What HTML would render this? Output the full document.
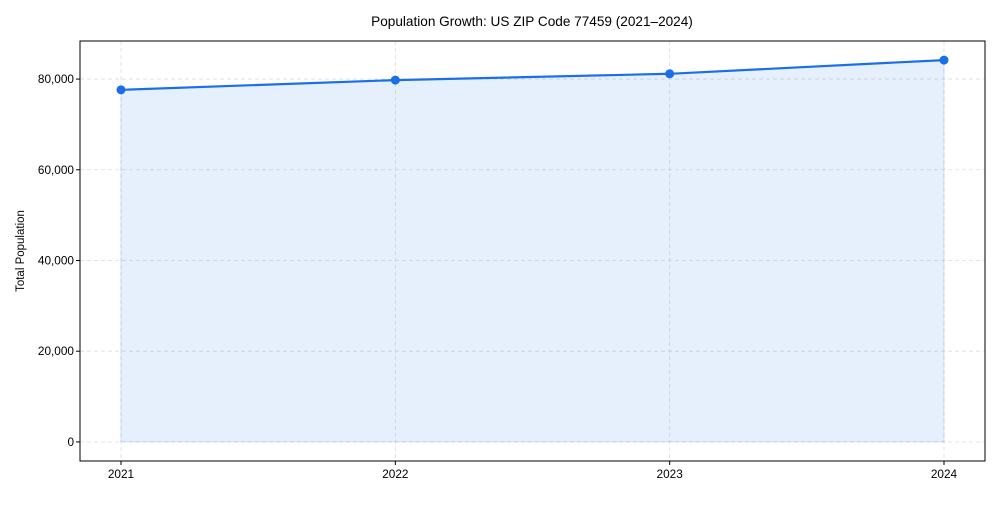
<!DOCTYPE html>
<html><head><meta charset="utf-8"><style>
body{margin:0;background:#fff;font-family:"Liberation Sans",Arial,sans-serif;}
svg text{font-family:"Liberation Sans",Arial,sans-serif;fill:#000;}
</style></head><body>
<svg id="chart" width="1000" height="500">
<text x="532" y="26" font-size="13.6" text-anchor="middle">Population Growth: US ZIP Code 77459 (2021–2024)</text>
<text transform="translate(24,251) rotate(-90)" font-size="11.5" text-anchor="middle">Total Population</text>
<g id="grid"></g><g id="marks"></g><g id="axes"></g>
<rect x="80" y="41" width="905" height="420" fill="none" stroke="#000" stroke-width="1"/>
</svg>
<script>
const years = ["2021","2022","2023","2024"];
const population = [77630, 79775, 81165, 84185];
const yTicks = [0, 20000, 40000, 60000, 80000];
const yTickLabels = ["0","20,000","40,000","60,000","80,000"];
const L=80,R=985,T=41,B=461;
const yMin=-4209,yMax=88394;
const xs=i=>121+i*(944-121)/(years.length-1);
const ys=v=>B-(v-yMin)/(yMax-yMin)*(B-T);
const NS="http://www.w3.org/2000/svg";
function mk(tag,attrs,parent){const e=document.createElementNS(NS,tag);for(const k in attrs)e.setAttribute(k,attrs[k]);document.getElementById(parent).appendChild(e);return e;}
yTicks.forEach((t,i)=>{
 const y=ys(t);
 const g=mk("line",{x1:L,x2:R,y1:y,y2:y,stroke:"#ddd","stroke-dasharray":"4,3","stroke-width":0.8},"grid");
 
 
 const tk=mk("line",{x1:L-4,x2:L,y1:y,y2:y,stroke:"#000"},"axes");
 
 
 const tx=mk("text",{x:L-6,y:y+4,"font-size":11.8,"text-anchor":"end"},"axes");
 tx.textContent=yTickLabels[i];
 
 
});
years.forEach((yr,i)=>{
 const x=xs(i);
 const g=mk("line",{x1:x,x2:x,y1:T,y2:B,stroke:"#ddd","stroke-dasharray":"4,3","stroke-width":0.8},"grid");
 
 
 const tk=mk("line",{x1:x,x2:x,y1:B,y2:B+4,stroke:"#000"},"axes");
 
 
 const tx=mk("text",{x:x,y:B+17,"font-size":11.8,"text-anchor":"middle"},"axes");
 tx.textContent=yr;
 
 
});
let pts=population.map((v,i)=>xs(i)+","+ys(v));
const area=mk("polygon",{points:pts.join(" ")+" "+xs(years.length-1)+","+ys(0)+" "+xs(0)+","+ys(0),fill:"#1a73e8","fill-opacity":0.11,stroke:"#1a73e8","stroke-opacity":0.15},"marks");


const line=mk("polyline",{points:pts.join(" "),fill:"none",stroke:"#1a6fe8","stroke-width":2.2},"marks");


population.forEach((v,i)=>{
 const c=mk("circle",{cx:xs(i),cy:ys(v),r:4.5,fill:"#1a6fe8"},"marks");
 
 
});
</script>
</body></html>
